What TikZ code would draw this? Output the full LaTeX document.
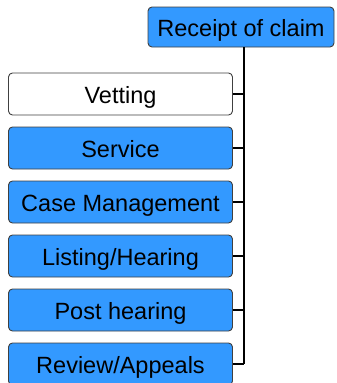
\documentclass[tikz,border=0pt]{standalone}
\usepackage{fontspec}
\setmainfont{Liberation Sans}
\definecolor{boxblue}{HTML}{3399FF}
\definecolor{boxedge}{HTML}{404040}
\tikzset{
  stagebox/.style={draw=boxedge, line width=0.9pt, rounded corners=4pt, fill=boxblue,
    minimum width=224pt, minimum height=42pt, inner sep=0pt,
    text height=18pt, text depth=0pt,
    font=\fontsize{23.5}{26}\selectfont},
  plainbox/.style={stagebox, fill=white},
  topbox/.style={stagebox, minimum width=186pt, minimum height=40pt},
  link/.style={line width=2.6pt, black}
}
\begin{document}
\begin{tikzpicture}[x=1pt,y=1pt]
\useasboundingbox (0,0) rectangle (337,-383);
\clip (0,0) rectangle (337,-383);
\node[topbox] (top) at (241,-27) {Receipt of claim};
\node[plainbox] (s1) at (120.5,-94) {Vetting};
\node[stagebox] (s2) at (120.5,-148) {Service};
\node[stagebox] (s3) at (120.5,-202) {Case Management};
\node[stagebox] (s4) at (120.5,-256) {Listing/Hearing};
\node[stagebox] (s5) at (120.5,-310) {Post hearing};
\node[stagebox] (s6) at (120.5,-364) {Review/Appeals};
\coordinate (bus) at (244,0);
\draw[link] (top.south -| bus) -- (bus |- s6.east);
\foreach \n in {s1,s2,s3,s4,s5,s6}{
  \draw[link] (\n.east) -- (\n.east -| bus);
}
\end{tikzpicture}
\end{document}
